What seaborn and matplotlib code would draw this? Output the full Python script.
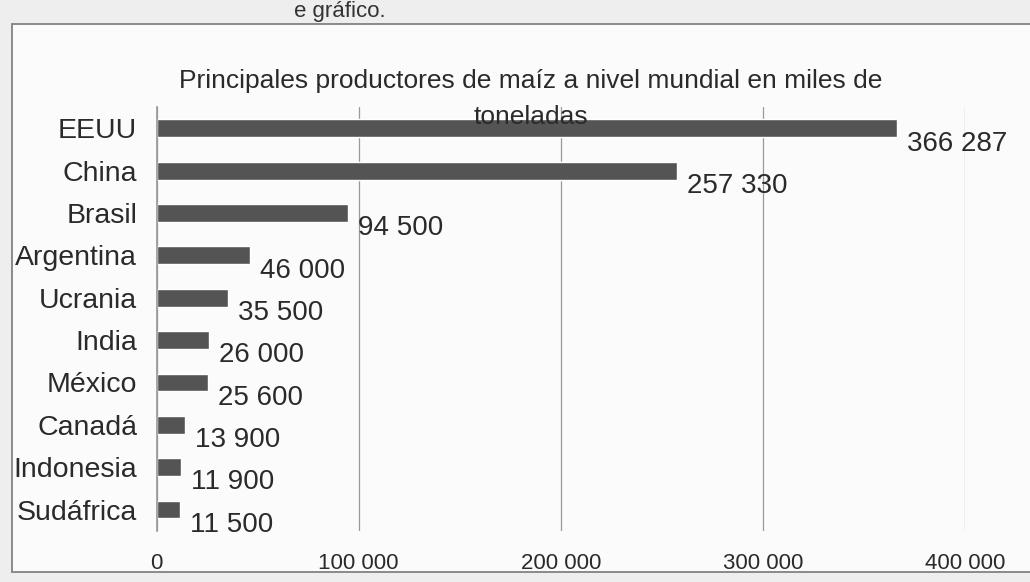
import matplotlib
matplotlib.use('Agg')

import matplotlib.pyplot as plt
import matplotlib.patches as mpatches
import pandas as pd
import seaborn as sns

sns.set_theme(style='white')
plt.rcParams['font.family'] = ['Liberation Sans', 'DejaVu Sans']

paises = ['EEUU', 'China', 'Brasil', 'Argentina', 'Ucrania', 'India',
          'México', 'Canadá', 'Indonesia', 'Sudáfrica']
produccion = [366287, 257330, 94500, 46000, 35500, 26000, 25600, 13900, 11900, 11500]
ticks_x = [0, 100000, 200000, 300000, 400000]


def miles(v):
    return f"{v:,}".replace(",", " ")


df = pd.DataFrame({'pais': paises, 'valor': produccion})

fig = plt.figure(figsize=(10.3, 5.82), dpi=100, facecolor='#eeeeee')

# scanned page frame (behind the axes)
frame = mpatches.Rectangle((0.012, 0.018), 1.0, 0.94, transform=fig.transFigure,
                           facecolor='#fbfbfb', edgecolor='#8a8a8a', lw=1.4, zorder=-10)
fig.patches.append(frame)
fig.text(0.33, 0.999, 'e gráfico.', fontsize=16, color='#333333', ha='center', va='top')

ax = fig.add_axes([0.152, 0.088, 0.785, 0.728])
ax.set_facecolor('none')
sns.barplot(data=df, x='valor', y='pais', orient='h', color='#545454',
            width=0.42, saturation=1, ax=ax)

ax.set_xlim(0, 400000)
ax.set_xticks(ticks_x)
ax.set_xticklabels([miles(t) for t in ticks_x], fontsize=16, color='#2a2a2a')
ax.tick_params(axis='x', length=0, pad=16)
ax.tick_params(axis='y', length=0, pad=14, labelsize=20.5, labelcolor='#2a2a2a')
ax.grid(axis='x', color='#9a9a9a', lw=0.9)
ax.set_axisbelow(True)
for s in ['top', 'right', 'bottom']:
    ax.spines[s].set_visible(False)
ax.spines['left'].set_color('#9a9a9a')
ax.set_xlabel('')
ax.set_ylabel('')

for i, v in enumerate(produccion):
    ax.text(v + 5000, i + 0.36, miles(v), fontsize=20, color='#2a2a2a',
            ha='left', va='center')

fig.text(0.515, 0.83, 'Principales productores de maíz a nivel mundial en miles de\ntoneladas',
         fontsize=19, color='#2a2a2a', ha='center', va='center', linespacing=1.6)

plt.savefig('out.png', dpi=100, facecolor=fig.get_facecolor())
plt.close()
